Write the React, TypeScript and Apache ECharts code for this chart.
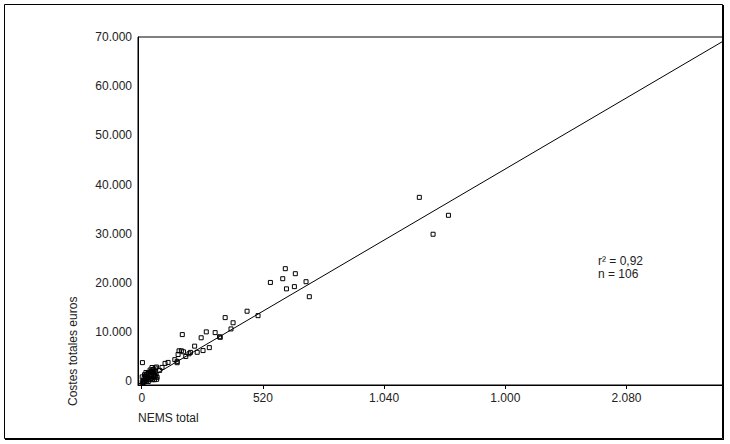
import React, { useEffect, useRef } from "react";
import * as echarts from "echarts";

const xTickValues = [0, 520, 1040, 1560, 2080];
const xTickLabels = ["0", "520", "1.040", "1.000", "2.080"];
const yTickValues = [0, 10000, 20000, 30000, 40000, 50000, 60000, 70000];
const yTickLabels = ["0", "10.000", "20.000", "30.000", "40.000", "50.000", "60.000", "70.000"];

// [NEMS total, Costes totales euros]
const highPoints: number[][] = [
  [1191, 37400], [1316, 33750], [1250, 29900],
];
const midPoints: number[][] = [
  [616, 22900], [659, 21880], [605, 20860], [552, 20100], [705, 20250],
  [655, 19250], [621, 18800], [719, 17200],
  [452, 14250], [499, 13350], [358, 12950], [392, 11900], [383, 10650],
  [277, 10050], [315, 9900], [174, 9500], [334, 9050], [337, 8950], [255, 8850],
  [227, 7150], [290, 6850], [263, 6250], [238, 5900],
];
const lowPoints: number[][] = [
  [160, 6200], [170, 6200], [179, 6000], [209, 5880], [189, 5060], [156, 5450],
  [203, 5600], [142, 4400], [152, 4050], [152, 3780], [113, 3840], [100, 3640],
  [87, 2830], [77, 2220], [3, 3800],
];
const clusterPoints: number[][] = [
  [2, -100], [5, -300], [8, -200], [12, -50], [16, 330], [20, 100], [23, 330],
  [28, -50], [30, 800], [34, 330], [38, 1000], [40, 1340], [42, 600], [46, 330],
  [49, 1800], [52, 2360], [55, 1340], [58, 2700], [60, 1000], [63, 2900],
  [66, 800], [55, 330], [45, 1800], [35, 1340], [25, 1000], [16, 1000],
  [10, 600], [20, 1340], [30, 1800], [40, 2000], [50, 1000], [62, 1500],
  [64, 400], [12, 1340], [2, 900], [8, 200], [48, 2400], [57, 2000],
  [36, 2300], [44, 2800], [26, 1600], [18, 1800],
];
const fitLine: number[][] = [
  [-16, -645], [2494, 69133],
];

const xMin = -16;
const xMax = 2494;
const yMin = -750;
const yMax = 70000;

const FONT = "'Liberation Sans', Arial, sans-serif";

export default function App() {
  const ref = useRef<HTMLDivElement>(null);
  useEffect(() => {
    if (!ref.current) return;
    const chart = echarts.init(ref.current, undefined, { renderer: "svg" });
    const points = [...highPoints, ...midPoints, ...lowPoints, ...clusterPoints];
    chart.setOption({
      animation: false,
      backgroundColor: "#fff",
      grid: {
        left: 138,
        top: 37,
        width: 585,
        height: 348,
        show: true,
        borderColor: "#000",
        borderWidth: 1,
      },
      xAxis: {
        type: "value",
        min: xMin,
        max: xMax,
        splitLine: { show: false },
        axisLine: { show: true, onZero: false, lineStyle: { color: "#000", width: 1 } },
        axisTick: {
          show: true,
          inside: false,
          length: 4,
          customValues: xTickValues,
          lineStyle: { color: "#000" },
        },
        axisLabel: {
          customValues: xTickValues,
          margin: 7,
          color: "#222",
          fontFamily: FONT,
          fontSize: 12,
          formatter: (v: number) => {
            const i = xTickValues.indexOf(v);
            return i >= 0 ? xTickLabels[i] : "";
          },
        },
      },
      yAxis: {
        type: "value",
        min: yMin,
        max: yMax,
        splitLine: { show: false },
        axisLine: { show: true, onZero: false, lineStyle: { color: "#000", width: 1 } },
        axisTick: { show: false },
        axisLabel: {
          customValues: yTickValues,
          margin: 6,
          color: "#222",
          fontFamily: FONT,
          fontSize: 12,
          formatter: (v: number) => {
            const i = yTickValues.indexOf(v);
            return i >= 0 ? yTickLabels[i] : "";
          },
        },
      },
      series: [
        {
          type: "line",
          data: fitLine,
          symbol: "none",
          lineStyle: { color: "#000", width: 1 },
          z: 2,
        },
        {
          type: "scatter",
          data: points,
          symbol: "rect",
          symbolSize: 4,
          itemStyle: { color: "rgba(0,0,0,0)", borderColor: "#000", borderWidth: 1, opacity: 1 },
          z: 3,
        },
      ],
      graphic: [
        {
          type: "rect",
          shape: { x: 4.5, y: 4.5, width: 718, height: 434 },
          style: { fill: "none", stroke: "#000", lineWidth: 1 },
          silent: true,
        },
        {
          type: "line",
          shape: { x1: 723.5, y1: 5, x2: 723.5, y2: 440 },
          style: { stroke: "#000", lineWidth: 1 },
          silent: true,
        },
        {
          type: "line",
          shape: { x1: 5, y1: 439.5, x2: 724, y2: 439.5 },
          style: { stroke: "#000", lineWidth: 1 },
          silent: true,
        },
        {
          type: "text",
          x: 138,
          y: 418,
          style: {
            text: "NEMS total",
            fill: "#222",
            font: `12px ${FONT}`,
            textAlign: "left",
            textVerticalAlign: "middle",
          },
        },
        {
          type: "text",
          x: 73,
          y: 406,
          rotation: Math.PI / 2,
          style: {
            text: "Costes totales euros",
            fill: "#222",
            font: `12px ${FONT}`,
            textAlign: "left",
            textVerticalAlign: "middle",
          },
        },
        {
          type: "text",
          x: 598,
          y: 261,
          style: {
            text: "r² = 0,92",
            fill: "#222",
            font: `12px ${FONT}`,
            textAlign: "left",
            textVerticalAlign: "middle",
          },
        },
        {
          type: "text",
          x: 598,
          y: 274,
          style: {
            text: "n = 106",
            fill: "#222",
            font: `12px ${FONT}`,
            textAlign: "left",
            textVerticalAlign: "middle",
          },
        },
      ],
    });
    return () => chart.dispose();
  }, []);
  return (
    <div
      ref={ref}
      style={{ position: "fixed", left: 0, top: 0, width: 730, height: 444, background: "#fff" }}
    />
  );
}
